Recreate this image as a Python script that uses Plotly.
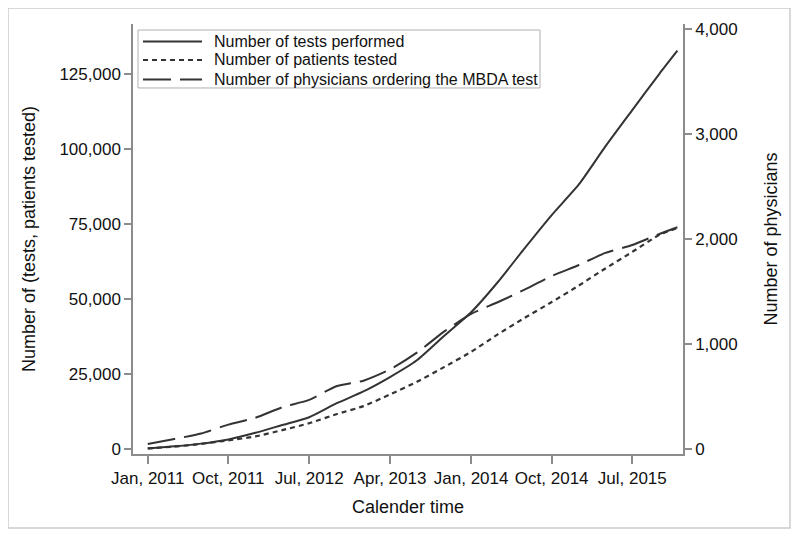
import plotly.graph_objects as go

dates = ["2011-01-01", "2011-04-01", "2011-07-01", "2011-10-01",
         "2012-01-01", "2012-04-01", "2012-07-01", "2012-10-01",
         "2013-01-01", "2013-04-01", "2013-07-01", "2013-10-01",
         "2014-01-01", "2014-04-01", "2014-07-01", "2014-10-01",
         "2015-01-01", "2015-04-01", "2015-07-01", "2015-10-01",
         "2015-12-01"]
tests = [300, 1000, 1900, 3300, 5500, 8100, 10700, 15300, 19300, 24100,
         29700, 37800, 45700, 55700, 67000, 78100, 88300, 101000, 113100,
         125200, 132900]
patients = [300, 900, 1800, 3000, 4300, 6400, 8700, 11700, 14400, 18300,
            22500, 27400, 32500, 38300, 43800, 49100, 54600, 60300, 65800,
            71500, 73800]
physicians = [50, 98, 150, 235, 300, 400, 470, 600, 653, 760, 920, 1120,
              1290, 1400, 1520, 1650, 1755, 1870, 1945, 2050, 2114]

series_names = ["Number of tests performed",
                "Number of patients tested",
                "Number of physicians ordering the MBDA test"]

tick_dates = ["2011-01-01", "2011-10-01", "2012-07-01", "2013-04-01",
              "2014-01-01", "2014-10-01", "2015-07-01"]
tick_text = ["Jan, 2011", "Oct, 2011", "Jul, 2012", "Apr, 2013",
             "Jan, 2014", "Oct, 2014", "Jul, 2015"]

LINE = "#333333"
AX = "#8c8c8c"
FONT = "Liberation Sans, Arial, sans-serif"
DASHES = ["solid", "5px,4px", "28px,9px"]
WIDTHS = [2, 2.2, 2]

fig = go.Figure()
fig.add_trace(go.Scatter(x=dates, y=tests, mode="lines", name=series_names[0],
                         line=dict(color=LINE, width=WIDTHS[0], shape="spline", smoothing=0.6)))
fig.add_trace(go.Scatter(x=dates, y=patients, mode="lines", name=series_names[1],
                         line=dict(color=LINE, width=WIDTHS[1], dash=DASHES[1],
                                   shape="spline", smoothing=0.6)))
fig.add_trace(go.Scatter(x=dates, y=physicians, mode="lines", yaxis="y2", name=series_names[2],
                         line=dict(color=LINE, width=WIDTHS[2], dash=DASHES[2],
                                   shape="spline", smoothing=0.6)))

# manual legend (box, samples, labels) in paper coordinates
shapes = [dict(type="rect", xref="paper", yref="paper",
               x0=-0.2273, x1=1.1945, y0=-0.1721, y1=1.0372,
               line=dict(color="#cccccc", width=1.5), layer="below"),
          dict(type="rect", xref="paper", yref="paper",
               x0=0.0091, x1=0.740, y0=0.8512, y1=0.9860,
               line=dict(color="#b0b0b0", width=1), fillcolor="white", layer="above")]
annotations = []
rows = [0.9593, 0.9163, 0.8709]
for name, dash, w, yy in zip(series_names, DASHES, WIDTHS, rows):
    shapes.append(dict(type="line", xref="paper", yref="paper",
                       x0=0.0182, x1=0.1255, y0=yy, y1=yy,
                       line=dict(color=LINE, width=w, dash=dash)))
    annotations.append(dict(xref="paper", yref="paper", x=0.1436, y=yy,
                            xanchor="left", yanchor="middle", showarrow=False,
                            text=name, font=dict(size=16, color="#111111")))

fig.update_layout(
    width=792, height=531,
    margin=dict(l=125, r=117, t=16, b=85, autoexpand=False),
    paper_bgcolor="white", plot_bgcolor="white",
    font=dict(family=FONT, size=17, color="#111111"),
    showlegend=False,
    xaxis=dict(
        range=["2010-11-12", "2015-12-20"],
        tickvals=tick_dates, ticktext=tick_text,
        showgrid=False, zeroline=False,
        showline=True, linecolor=AX, linewidth=1.5,
        ticks="outside", ticklen=8, tickcolor=AX, tickwidth=1.5,
        title=dict(text="Calender time", font=dict(size=18), standoff=13),
        automargin=False,
    ),
    yaxis=dict(
        range=[-1560, 141800],
        tickvals=[0, 25000, 50000, 75000, 100000, 125000],
        tickformat=",",
        showgrid=False, zeroline=False,
        showline=True, linecolor=AX, linewidth=1.5,
        ticks="outside", ticklen=7, tickcolor=AX, tickwidth=1.5,
        title=dict(text="Number of (tests, patients tested)", font=dict(size=18), standoff=19),
        automargin=False,
    ),
    yaxis2=dict(
        range=[-45, 4050],
        tickvals=[0, 1000, 2000, 3000, 4000],
        tickformat=",",
        overlaying="y", side="right",
        showgrid=False, zeroline=False,
        showline=True, linecolor=AX, linewidth=1.5,
        ticks="outside", ticklen=7, tickcolor=AX, tickwidth=1.5,
        title=dict(text="Number of physicians", font=dict(size=18), standoff=28),
        automargin=False,
    ),
    shapes=shapes,
    annotations=annotations,
)

fig.write_html("out.html")
